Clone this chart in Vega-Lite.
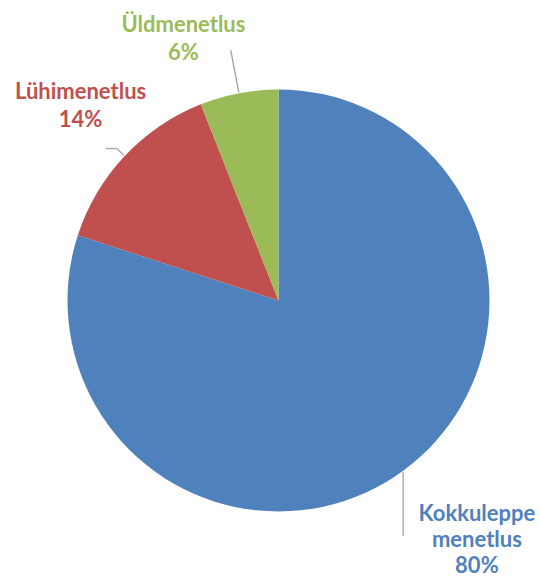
{
  "$schema": "https://vega.github.io/schema/vega-lite/v6.json",
  "width": 523,
  "height": 561,
  "autosize": {"type": "none"},
  "padding": {"left": 17, "top": 20, "right": 0, "bottom": 0},
  "background": "white",
  "config": {"view": {"stroke": null}},
  "data": {"values": [
    {"cat": "Kokkuleppe menetlus", "value": 80},
    {"cat": "Lühimenetlus", "value": 14},
    {"cat": "Üldmenetlus", "value": 6}
  ]},
  "transform": [
    {"stack": "value", "groupby": [], "sort": [{"field": "value", "order": "descending"}], "as": ["v0", "v1"]},
    {"calculate": "(datum.v0 + datum.v1) / 2", "as": "mid"},
    {"calculate": "datum.mid / 100 * 2 * PI", "as": "ang"},
    {"calculate": "datum.cat + ' ' + datum.value + '%'", "as": "label"}
  ],
  "layer": [
    {
      "mark": {"type": "arc", "outerRadius": 211},
      "encoding": {
        "theta": {"field": "v0", "type": "quantitative", "scale": {"domain": [0, 100]}},
        "theta2": {"field": "v1"},
        "color": {"field": "cat", "type": "nominal", "legend": null,
          "scale": {"domain": ["Kokkuleppe menetlus", "Lühimenetlus", "Üldmenetlus"], "range": ["#4F81BD", "#C0504D", "#9BBB59"]}}
      }
    },
    {
      "transform": [
        {"calculate": "datum.cat === 'Üldmenetlus' ? 255 : datum.cat === 'Lühimenetlus' ? 222 : 212", "as": "r2"},
        {"calculate": "212 * sin(datum.ang)", "as": "lx1"},
        {"calculate": "212 * cos(datum.ang)", "as": "ly1"},
        {"calculate": "datum.r2 * sin(datum.ang)", "as": "lx2"},
        {"calculate": "datum.cat === 'Kokkuleppe menetlus' ? datum.ly1 - 64 : datum.r2 * cos(datum.ang)", "as": "ly2"}
      ],
      "mark": {"type": "rule", "color": "#A0A0A0", "strokeWidth": 1.3},
      "encoding": {
        "x": {"field": "lx1", "type": "quantitative", "axis": null, "scale": {"domain": [-261.5, 261.5], "nice": false, "zero": false}},
        "y": {"field": "ly1", "type": "quantitative", "axis": null, "scale": {"domain": [-280.5, 280.5], "nice": false, "zero": false}},
        "x2": {"field": "lx2"},
        "y2": {"field": "ly2"}
      }
    },
    {
      "transform": [
        {"filter": "datum.cat === 'Lühimenetlus'"},
        {"calculate": "222 * sin(datum.ang)", "as": "lx1"},
        {"calculate": "222 * sin(datum.ang) - 11", "as": "lx2"},
        {"calculate": "222 * cos(datum.ang)", "as": "ly1"}
      ],
      "mark": {"type": "rule", "color": "#A0A0A0", "strokeWidth": 1.3},
      "encoding": {
        "x": {"field": "lx1", "type": "quantitative", "axis": null, "scale": {"domain": [-261.5, 261.5], "nice": false, "zero": false}},
        "y": {"field": "ly1", "type": "quantitative", "axis": null, "scale": {"domain": [-280.5, 280.5], "nice": false, "zero": false}},
        "x2": {"field": "lx2"}
      }
    },
    {
      "transform": [{"filter": "datum.cat === 'Üldmenetlus'"}],
      "mark": {"type": "text", "radius": 278, "dx": -43, "dy": -2, "font": "Lato", "fontWeight": "bold", "fontSize": 22, "lineBreak": " ", "lineHeight": 28, "align": "center", "baseline": "middle"},
      "encoding": {
        "theta": {"field": "mid", "type": "quantitative", "stack": false, "scale": {"domain": [0, 100]}},
        "text": {"field": "label"},
        "color": {"field": "cat", "type": "nominal", "legend": null}
      }
    },
    {
      "transform": [{"filter": "datum.cat === 'Lühimenetlus'"}],
      "mark": {"type": "text", "radius": 277, "dx": 4, "dy": -19, "font": "Lato", "fontWeight": "bold", "fontSize": 22, "lineBreak": " ", "lineHeight": 28, "align": "center", "baseline": "middle"},
      "encoding": {
        "theta": {"field": "mid", "type": "quantitative", "stack": false, "scale": {"domain": [0, 100]}},
        "text": {"field": "label"},
        "color": {"field": "cat", "type": "nominal", "legend": null}
      }
    },
    {
      "transform": [{"filter": "datum.cat === 'Kokkuleppe menetlus'"}],
      "mark": {"type": "text", "radius": 312, "dx": 15, "dy": -39, "font": "Lato", "fontWeight": "bold", "fontSize": 22, "lineBreak": " ", "lineHeight": 26, "align": "center", "baseline": "middle"},
      "encoding": {
        "theta": {"field": "mid", "type": "quantitative", "stack": false, "scale": {"domain": [0, 100]}},
        "text": {"field": "label"},
        "color": {"field": "cat", "type": "nominal", "legend": null}
      }
    }
  ]
}
